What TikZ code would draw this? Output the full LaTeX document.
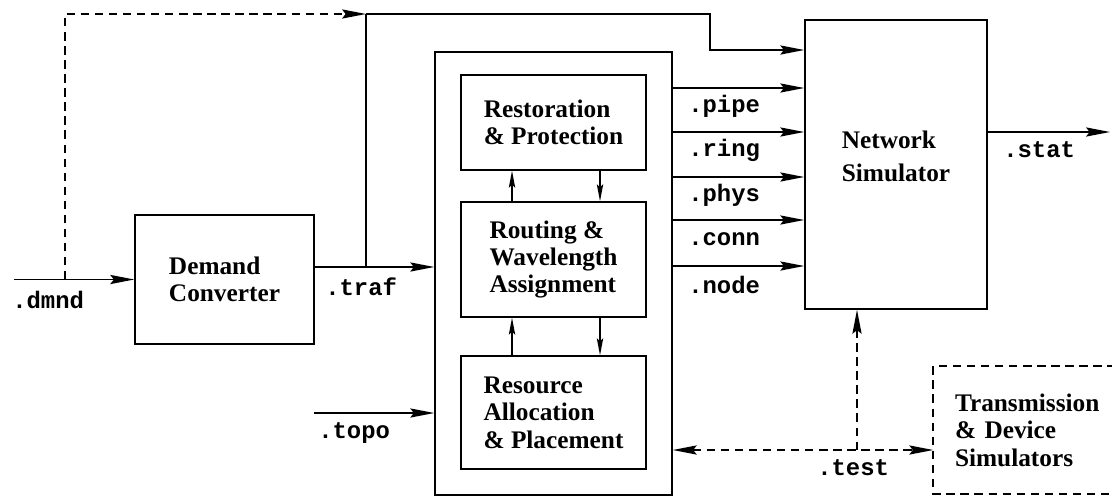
\documentclass[tikz,border=0pt]{standalone}
\usepackage{fontspec}
\setmainfont{Liberation Serif}
\setmonofont{Liberation Mono}
\usepackage{tikz}
\usetikzlibrary{
  arrows.meta,
  positioning,
  calc
}

\begin{document}
\begin{tikzpicture}[
  >={Stealth[length=17pt, width=6.5pt, inset=2.5pt]},
  block/.style={rectangle, draw, line width=1.1pt, inner sep=0pt, align=left, font=\fontsize{18}{19.5}\selectfont\bfseries},
  file/.style={inner sep=0pt, anchor=west, font=\fontsize{17}{17}\selectfont\ttfamily\bfseries},
  flow/.style={->, line width=1.1pt},
  link/.style={-{Stealth[length=12pt, width=4.5pt, inset=2pt]}, line width=1.1pt},
  probe/.style={dash pattern=on 6pt off 4pt}
]
  \useasboundingbox (0,0) rectangle (27.8,-12.4);
  \clip (0,0) rectangle (27.8,-12.4);

  \node[block, minimum width=4.475cm, minimum height=3.225cm] (conv) at (5.6125,-6.9875) {Demand\\Converter};
  \node[block, minimum width=5.925cm, minimum height=11.075cm] (core) at (13.8375,-6.8375) {};
  \node[block, minimum width=4.625cm, minimum height=2.375cm] (restore) at (13.8375,-3.0625) {Restoration\\\& Protection};
  \node[block, minimum width=4.625cm, minimum height=2.875cm] (route) at (13.8375,-6.4875) {Routing \&\\Wavelength\\Assignment};
  \node[block, minimum width=4.625cm, minimum height=2.825cm] (alloc) at (13.8375,-10.3125) {Resource\\Allocation\\\& Placement};
  \node[block, minimum width=4.55cm, minimum height=7.225cm, font=\fontsize{18}{23.5}\selectfont\bfseries] (netsim) at (22.4,-4.1125) {Network\\Simulator\rule[-0.4cm]{0pt}{0pt}};
  \node[block, draw=none, minimum width=5.15cm, minimum height=3.15cm, text width=4.1cm] (devsim) at (25.925,-10.75) {Transmission\\\& Device\\Simulators};
  \draw[probe, line width=1.1pt] (28.6,0 |- devsim.north) -- (devsim.north west) -- (devsim.south west) -- (28.6,0 |- devsim.south);

  \coordinate (dmndin) at (0.35,-6.9875);
  \coordinate (fork) at (1.625,-6.9875);
  \coordinate (join) at (9.15,-0.35);
  \coordinate (traf) at (7.85,-6.675);
  \coordinate (bend) at (17.75,-1.25);
  \coordinate (topo) at (7.85,-10.325);
  \coordinate (stat) at (27.75,-3.3);
  \coordinate (test) at (21.425,-11.25);
  \coordinate (up) at (12.8,0);
  \coordinate (down) at (15,0);

  \draw[flow] (dmndin) -- (conv.west);
  \draw[flow, probe] (fork) |- (join);
  \draw[line width=1.1pt] (join) -- (join |- traf);
  \draw[flow] (traf) -- (traf -| core.west);
  \draw[flow] (join) -| (bend) -- (bend -| netsim.west);
  \draw[flow] (topo) -- (topo -| core.west);
  \draw[flow] (netsim.east |- stat) -- (stat);
  \draw[flow, probe, <->] (test -| core.east) -- (test -| devsim.west);
  \draw[flow, probe] (test) -- (test |- netsim.south);

  \foreach \a/\b in {route/restore, alloc/route} {
    \draw[link] (\a.north -| up) -- (\b.south -| up);
    \draw[link] (\b.south -| down) -- (\a.north -| down);
  }

  \foreach \y/\ext in {-2.2/pipe, -3.3/ring, -4.425/phys, -5.5/conn, -6.65/node} {
    \coordinate (o\ext) at (17.2,\y);
    \draw[flow] (o\ext -| core.east) -- (o\ext -| netsim.west);
    \node[file] (l\ext) at (17.2,\y-0.47) {.\ext};
  }

  \node[file] (ldmnd) at (0.3,-7.5) {.dmnd};
  \node[file] (ltraf) at (8.125,-7.175) {.traf};
  \node[file] (ltopo) at (7.95,-10.825) {.topo};
  \node[file] (lstat) at (25.075,-3.75) {.stat};
  \node[file] (ltest) at (20.425,-11.7) {.test};
\end{tikzpicture}
\end{document}
